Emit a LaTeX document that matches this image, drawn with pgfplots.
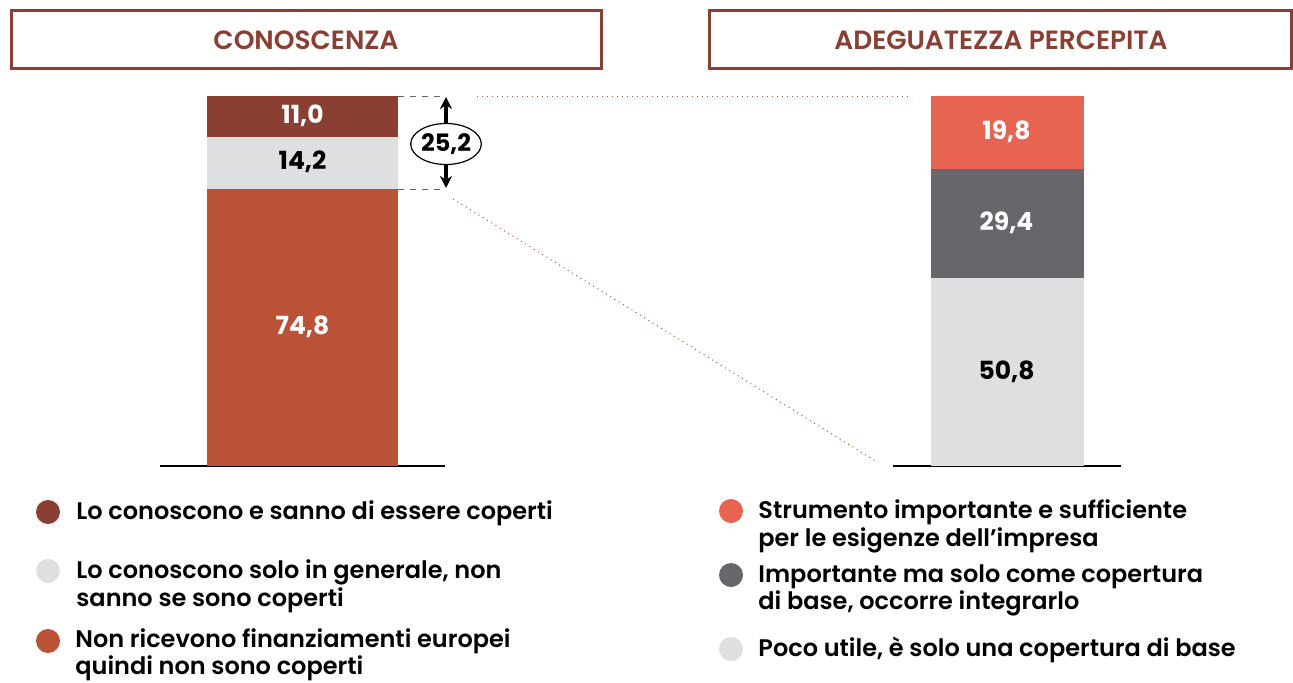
\documentclass[border=0pt]{standalone}
\usepackage{fontspec}
\setmainfont{Poppins}[BoldFont={Poppins SemiBold}]
\newfontfamily\pbold{Poppins Bold}
\usepackage{pgfplots}
\pgfplotsset{compat=1.18}
\usetikzlibrary{arrows.meta,shapes.geometric}
\definecolor{brownD}{HTML}{8A3F32}
\definecolor{lightG}{HTML}{DEDFE1}
\definecolor{orangeR}{HTML}{B95237}
\definecolor{coral}{HTML}{E86452}
\definecolor{darkG}{HTML}{67676B}
\definecolor{dotc}{HTML}{A8553F}
\begin{document}
\begin{tikzpicture}[font=\fontsize{12}{14}\selectfont\bfseries]
\useasboundingbox (0pt,0pt) rectangle (646.5pt,341pt);
% left axis
\begin{axis}[at={(80pt,108pt)},anchor=south west,scale only axis,width=142.5pt,height=185pt,
  xmin=-1,xmax=1,ymin=0,ymax=100,hide axis,clip=false,ybar stacked,bar width=1.34,
  every axis plot/.append style={draw=none}]
\addplot[fill=orangeR] coordinates {(0,74.8)};
\addplot[fill=lightG] coordinates {(0,14.2)};
\addplot[fill=brownD] coordinates {(0,11.0)};
\draw[black,line width=0.8pt] (axis cs:-1,0) -- (axis cs:1,0);
\end{axis}
% right axis
\begin{axis}[at={(446.5pt,108pt)},anchor=south west,scale only axis,width=114pt,height=185pt,
  xmin=-1,xmax=1,ymin=0,ymax=100,hide axis,clip=false,ybar stacked,bar width=1.342,
  every axis plot/.append style={draw=none}]
\addplot[fill=lightG] coordinates {(0,50.8)};
\addplot[fill=darkG] coordinates {(0,29.4)};
\addplot[fill=coral] coordinates {(0,19.8)};
\draw[black,line width=0.8pt] (axis cs:-1,0) -- (axis cs:1,0);
\end{axis}
\begin{scope}[x=0.5pt,y=0.5pt]
% bar value labels
\begin{scope}[every node/.style={font=\fontsize{12.5}{14}\selectfont\pbold}]
\node[white] at (302.5,{682-327}) {74,8};
\node[black] at (302.5,{682-162}) {14,2};
\node[white] at (302.5,{682-116}) {11,0};
\node[black] at (1006.5,{682-372}) {50,8};
\node[white] at (1006.5,{682-223}) {29,4};
\node[white] at (1006.5,{682-132}) {19,8};
\end{scope}
% title boxes
\draw[brownD,line width=1.5pt] (11,{682-11}) rectangle (601,{682-68});
\draw[brownD,line width=1.5pt] (709,{682-11}) rectangle (1291,{682-68});
\node[brownD,font=\fontsize{13.2}{15}\selectfont\bfseries] at (306,{682-40}) {CONOSCENZA};
\node[brownD,font=\fontsize{13.2}{15}\selectfont\bfseries] at (1001,{682-40}) {ADEGUATEZZA PERCEPITA};
% bracket
\draw[gray!80!black,dashed,line width=0.5pt] (398,{682-96}) -- (446,{682-96});
\draw[gray!80!black,dashed,line width=0.5pt] (398,{682-189}) -- (446,{682-189});
\draw[black,line width=1.6pt,-{Stealth[length=6pt,width=6pt]}] (446,{682-144}) -- (446,{682-97});
\draw[black,line width=1.6pt,-{Stealth[length=6pt,width=6pt]}] (446,{682-144}) -- (446,{682-188});
\node[draw=black,fill=white,ellipse,line width=0.6pt,minimum width=34.5pt,minimum height=20.5pt,inner sep=0pt,font=\fontsize{12}{14}\selectfont\pbold] at (446,{682-144}) {25,2};
% connector dotted lines
\draw[dotc,dotted,line width=0.5pt] (477,{682-96}) -- (912,{682-96});
\draw[dotc,dotted,line width=0.5pt] (453,{682-199}) -- (877,{682-462});
% left legend
\fill[brownD] (48,{682-512}) circle (6pt);
\fill[lightG] (48,{682-571}) circle (6pt);
\fill[orangeR] (48,{682-641}) circle (6pt);
\node[anchor=base west,inner sep=0] at (76,{682-519}) {Lo conoscono e sanno di essere coperti};
\node[anchor=base west,inner sep=0] at (76,{682-578}) {Lo conoscono solo in generale, non};
\node[anchor=base west,inner sep=0] at (76,{682-606}) {sanno se sono coperti};
\node[anchor=base west,inner sep=0] at (75,{682-647}) {Non ricevono finanziamenti europei};
\node[anchor=base west,inner sep=0] at (75,{682-674}) {quindi non sono coperti};
% right legend
\fill[coral] (731,{682-511}) circle (6pt);
\fill[darkG] (731,{682-575}) circle (6pt);
\fill[lightG] (731,{682-649}) circle (6pt);
\node[anchor=base west,inner sep=0] at (758,{682-518}) {Strumento importante e sufficiente};
\node[anchor=base west,inner sep=0] at (758,{682-546}) {per le esigenze dell’impresa};
\node[anchor=base west,inner sep=0] at (758,{682-582}) {Importante ma solo come copertura};
\node[anchor=base west,inner sep=0] at (758,{682-609}) {di base, occorre integrarlo};
\node[anchor=base west,inner sep=0] at (758,{682-656}) {Poco utile, è solo una copertura di base};
\end{scope}
\end{tikzpicture}
\end{document}
